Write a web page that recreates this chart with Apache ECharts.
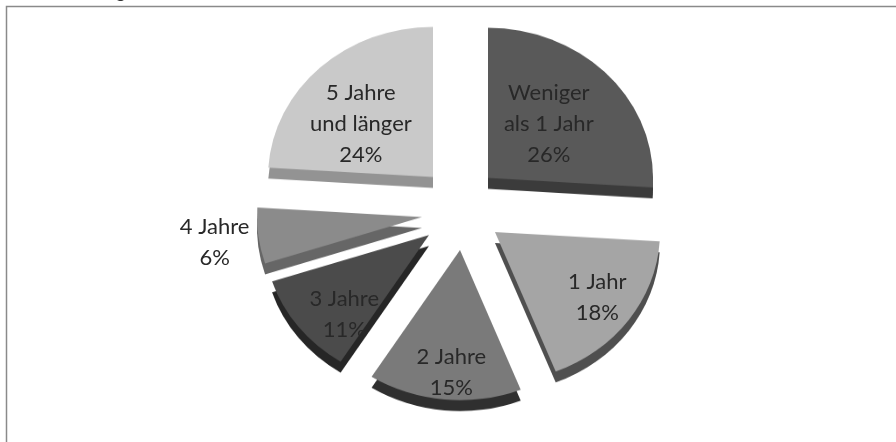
<!DOCTYPE html>
<html>
<head>
<meta charset="utf-8">
<script src="https://cdn.jsdelivr.net/npm/echarts@6/dist/echarts.min.js"></script>
<style>
  html, body { margin: 0; padding: 0; background: #fff; }
  #wrap { position: relative; width: 896px; height: 442px; overflow: hidden; }
  #pies { position: absolute; left: 0; top: 0; width: 896px; height: 486px; transform: scaleY(0.91); transform-origin: 0 0; }
  #labels { position: absolute; left: 0; top: 0; width: 896px; height: 442px; }
</style>
</head>
<body>
<div id="wrap">
  <div id="pies"></div>
  <div id="labels"></div>
</div>
<script>
// data
const categories = ['Weniger\nals 1 Jahr', '1 Jahr', '2 Jahre', '3 Jahre', '4 Jahre', '5 Jahre\nund länger']
const shares = [26, 18, 15, 11, 6, 24]

// look: every slice is exploded on its own, so each one gets its own center (tip of the slice)
const sliceCenters = [[488, 178], [495, 232], [460, 250], [429, 235], [422, 217], [433, 177]]
const labelShift = [[1, 2], [36, 17], [-1, 41], [-20, 29], [-126, 15], [-16, 7]]
const topColors = ['#595959', '#a5a5a5', '#7a7a7a', '#4b4b4b', '#8b8b8b', '#c9c9c9']
const sideColors = ['#3b3b3b', '#4f4f4f', '#2f2f2f', '#262626', '#666666', '#939393']
const SQUASH = 0.91 // pie is seen a bit from above
const RADIUS = 165

// ~~ slice shapes (drawn in a vertically squashed layer)

const shapeSeries = function (i) {
  return {
    type: 'pie',
    center: [sliceCenters[i][0], sliceCenters[i][1] / SQUASH],
    radius: RADIUS,
    startAngle: 90,
    silent: true,
    animation: false,
    label: { show: false },
    labelLine: { show: false },
    data: shares.map((v, j) => ({
      name: categories[j],
      value: v,
      itemStyle:
        j === i
          ? { color: topColors[i], shadowColor: sideColors[i], shadowBlur: 0, shadowOffsetY: 12 }
          : { color: 'transparent' },
    })),
  }
}

// ~~ labels (normal layer, so text is not squashed)

const labelSeries = function (i) {
  return {
    type: 'pie',
    center: sliceCenters[i],
    radius: 158,
    startAngle: 90,
    silent: true,
    animation: false,
    avoidLabelOverlap: false,
    labelLine: { show: false },
    labelLayout: { dx: labelShift[i][0], dy: labelShift[i][1] },
    itemStyle: { color: 'transparent' },
    data: shares.map((v, j) => ({
      name: categories[j],
      value: v,
      label: {
        show: j === i,
        position: 'inside',
        formatter: (p) => p.name + '\n' + p.value + '%',
        fontFamily: 'Lato',
        fontSize: 22,
        lineHeight: 31,
        color: '#282828',
        align: 'center',
      },
    })),
  }
}

const pies = echarts.init(document.getElementById('pies'))
pies.setOption({
  series: shares.map((v, i) => shapeSeries(i)),
})

const labels = echarts.init(document.getElementById('labels'))
labels.setOption({
  graphic: [
    {
      type: 'rect',
      shape: { x: 6.5, y: 6.5, width: 900, height: 450 },
      style: { fill: 'none', stroke: '#8a8a8a', lineWidth: 1.5 },
      silent: true,
    },
    {
      type: 'text',
      left: 116,
      top: -17,
      style: { text: 'g', fontFamily: 'Lato', fontSize: 18, fill: '#333' },
      silent: true,
    },
  ],
  series: shares.map((v, i) => labelSeries(i)),
})
</script>
</body>
</html>
